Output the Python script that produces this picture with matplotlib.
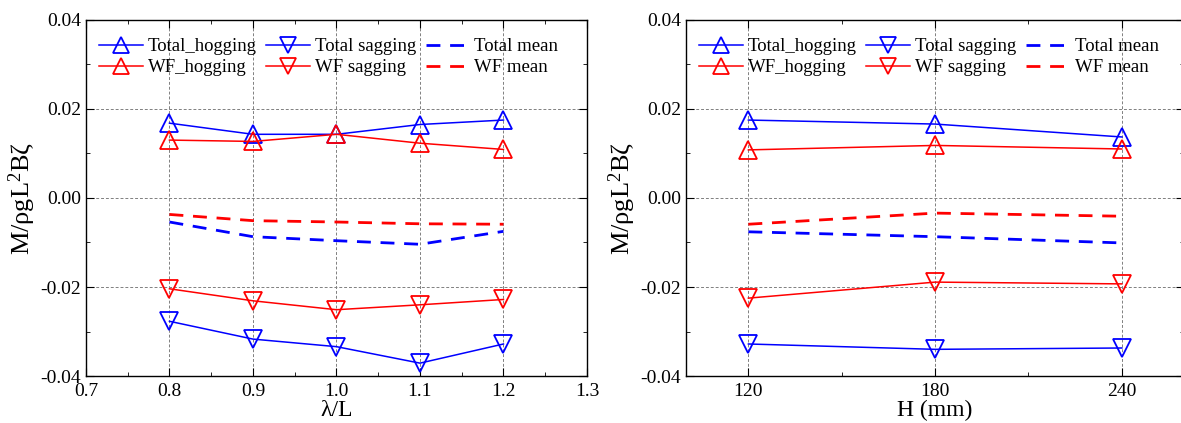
import matplotlib
matplotlib.use("Agg")
import matplotlib.pyplot as plt
from matplotlib.ticker import MultipleLocator

plt.rcParams['font.family'] = ['Liberation Serif', 'DejaVu Serif']
plt.rcParams['mathtext.fontset'] = 'custom'
plt.rcParams['mathtext.rm'] = 'Liberation Serif'
plt.rcParams['mathtext.it'] = 'Liberation Serif:italic'

# Left panel: lambda/L
lam = [0.8, 0.9, 1.0, 1.1, 1.2]
lam_total_hog = [0.0168, 0.0143, 0.0143, 0.0165, 0.0175]
lam_wf_hog = [0.0130, 0.0127, 0.0143, 0.0123, 0.0109]
lam_total_mean = [-0.0054, -0.0087, -0.0096, -0.0104, -0.0075]
lam_wf_mean = [-0.0037, -0.0051, -0.0054, -0.0058, -0.0059]
lam_wf_sag = [-0.0204, -0.0231, -0.0251, -0.0240, -0.0228]
lam_total_sag = [-0.0277, -0.0317, -0.0334, -0.0371, -0.0328]

# Right panel: H (mm)
H = [120, 180, 240]
H_total_hog = [0.0175, 0.0166, 0.0137]
H_wf_hog = [0.0108, 0.0118, 0.0110]
H_wf_mean = [-0.0059, -0.0034, -0.0041]
H_total_mean = [-0.0076, -0.0087, -0.0101]
H_wf_sag = [-0.0225, -0.0189, -0.0193]
H_total_sag = [-0.0328, -0.0340, -0.0337]

fig = plt.figure(figsize=(11.81, 4.23), dpi=100)
ax1 = fig.add_axes([0.0728, 0.111, 0.4242, 0.842])
ax2 = fig.add_axes([0.581, 0.111, 0.4216, 0.842])

ms = 13
mew = 1.3

def draw(ax, x, th, ts, tm, wh, ws, wm):
    h1, = ax.plot(x, th, '-', color='blue', lw=1.1, marker='^', ms=ms, mfc='none', mec='blue', mew=mew, label='Total_hogging')
    h2, = ax.plot(x, wh, '-', color='red', lw=1.1, marker='^', ms=ms, mfc='none', mec='red', mew=mew, label='WF_hogging')
    h3, = ax.plot(x, ts, '-', color='blue', lw=1.1, marker='v', ms=ms, mfc='none', mec='blue', mew=mew, label='Total sagging')
    h4, = ax.plot(x, ws, '-', color='red', lw=1.1, marker='v', ms=ms, mfc='none', mec='red', mew=mew, label='WF sagging')
    h5, = ax.plot(x, tm, color='blue', lw=2.0, ls=(0, (5, 3.5)), label='Total mean')
    h6, = ax.plot(x, wm, color='red', lw=2.0, ls=(0, (5, 3.5)), label='WF mean')
    ax.legend(handles=[h1, h2, h3, h4, h5, h6], ncol=3, loc='upper left',
              bbox_to_anchor=(0.0, 0.985), frameon=False, fontsize=13.5,
              handlelength=2.35, handletextpad=0.25, columnspacing=0.5,
              labelspacing=0.2, borderaxespad=0.3, markerscale=0.85)
    ax.set_ylim(-0.04, 0.04)
    ax.yaxis.set_major_locator(MultipleLocator(0.02))
    ax.yaxis.set_minor_locator(MultipleLocator(0.01))
    ax.yaxis.set_major_formatter(plt.FuncFormatter(lambda v, p: f"{v:.2f}"))
    ax.grid(True, which='major', ls=(0, (3, 2)), color='gray', lw=0.7)
    ax.tick_params(which='both', direction='in', top=True, right=True, labelsize=14)
    ax.tick_params(which='major', length=6)
    ax.tick_params(which='minor', length=3)
    ax.tick_params(axis='x', which='major', pad=5)
    ax.set_ylabel(r'M/ρgL$^{2}$Bζ', fontsize=19, labelpad=2)
    for s in ax.spines.values():
        s.set_linewidth(1.0)

draw(ax1, lam, lam_total_hog, lam_total_sag, lam_total_mean, lam_wf_hog, lam_wf_sag, lam_wf_mean)
ax1.set_xlim(0.7, 1.3)
ax1.xaxis.set_major_locator(MultipleLocator(0.1))
ax1.xaxis.set_minor_locator(MultipleLocator(0.05))
ax1.xaxis.set_major_formatter(plt.FuncFormatter(lambda v, p: f"{v:.1f}"))
ax1.set_xlabel('λ/L', fontsize=17, labelpad=0)

draw(ax2, H, H_total_hog, H_total_sag, H_total_mean, H_wf_hog, H_wf_sag, H_wf_mean)
ax2.set_xlim(100, 260)
ax2.set_xticks(H)
ax2.xaxis.set_minor_locator(MultipleLocator(30))
ax2.set_xlabel('H (mm)', fontsize=17, labelpad=0)

fig.savefig('out.png', dpi=100)
